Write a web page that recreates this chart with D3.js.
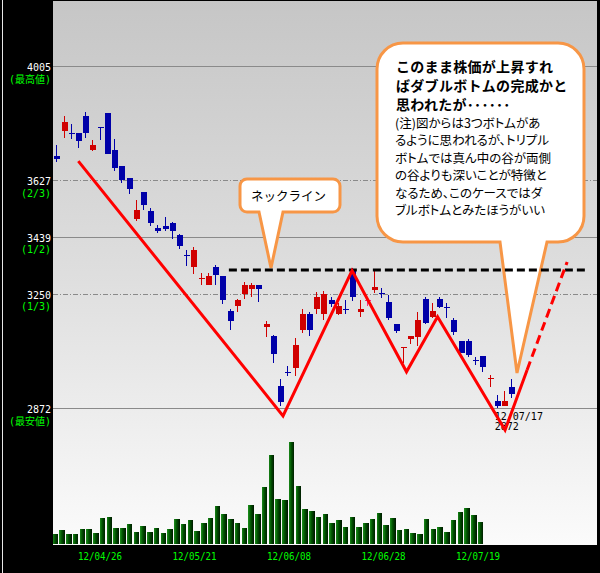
<!DOCTYPE html>
<html><head><meta charset="utf-8">
<script src="https://cdn.jsdelivr.net/npm/d3@7"></script>
<style>html,body{margin:0;padding:0;background:#000;} svg{display:block} .palt{font-feature-settings:"palt" 1;}</style>
</head><body>
<svg id="c" width="600" height="573"></svg>
<script>
// ---- data ----
const dates = ["12/04/17","12/04/18","12/04/19","12/04/20","12/04/23","12/04/24","12/04/25","12/04/26","12/04/27","12/05/01",
"12/05/02","12/05/07","12/05/08","12/05/09","12/05/10","12/05/11","12/05/14","12/05/15","12/05/16","12/05/17",
"12/05/18","12/05/21","12/05/22","12/05/23","12/05/24","12/05/25","12/05/28","12/05/29","12/05/30","12/05/31",
"12/06/01","12/06/04","12/06/05","12/06/06","12/06/07","12/06/08","12/06/11","12/06/12","12/06/13","12/06/14",
"12/06/15","12/06/18","12/06/19","12/06/20","12/06/21","12/06/22","12/06/25","12/06/26","12/06/27","12/06/28",
"12/06/29","12/07/02","12/07/03","12/07/04","12/07/05","12/07/06","12/07/09","12/07/10","12/07/11","12/07/12",
"12/07/13","12/07/17","12/07/18","12/07/19"];
const open = [3708,3791,3782,3782,3839,3727,3802,3849,3727,3674,3634,3498,3587,3525,3468,3475,3485,3445,3378,3340,
3303,3280,3339,3309,3193,3210,3250,3265,3280,3141,3111,2945,2991,3006,3130,3183,3200,3183,3230,3183,
3199,3327,3191,3230,3264,3252,3223,3150,3073,3102,3106,3233,3174,3233,3206,3164,3093,3093,3031,3044,
2970,2896,2879,2941];
const high = [3743,3839,3813,3784,3852,3760,3802,3849,3763,3674,3634,3561,3587,3536,3478,3504,3488,3448,3395,3404,
3318,3318,3346,3309,3200,3233,3290,3286,3280,3160,3114,2968,3011,3103,3200,3191,3256,3261,3240,3220,
3230,3335,3230,3233,3329,3269,3246,3150,3074,3111,3191,3240,3219,3240,3219,3169,3095,3100,3042,3044,
2981,2915,2929,2968];
const low = [3688,3767,3763,3734,3767,3723,3760,3713,3658,3618,3582,3492,3527,3476,3451,3459,3433,3399,3342,3316,
3280,3280,3280,3217,3130,3191,3234,3241,3224,3108,3022,2880,2978,2978,3120,3111,3183,3164,3206,3180,
3183,3227,3174,3211,3252,3235,3164,3122,3020,3084,3077,3150,3169,3202,3169,3114,3053,3042,3015,2992,
2943,2872,2879,2904];
const close = [3697,3819,3781,3757,3782,3743,3801,3713,3668,3627,3597,3528,3544,3486,3459,3465,3459,3409,3377,3395,
3304,3309,3313,3230,3160,3230,3280,3280,3265,3150,3051,2893,2990,3081,3183,3130,3240,3250,3216,3210,
3198,3241,3200,3230,3273,3251,3171,3126,3074,3111,3164,3155,3193,3206,3205,3123,3055,3047,3030,3007,
2971,2879,2896,2918];
const volume = [1000,1400,1000,1000,1500,1500,1100,2600,2700,1600,1600,2000,1200,1800,1200,1600,1100,1500,2500,2000,
2400,1300,2100,2600,3800,3000,2500,2100,1600,3900,3000,5700,8900,4500,4400,10200,5800,3500,3300,2700,
3000,2100,2400,1700,2700,1700,2100,2500,3100,1900,2600,1400,1500,1100,1000,2500,1500,1700,1200,2400,
3200,3600,2900,2200];
const priceTicks = [4005, 3627, 3439, 3250, 2872];
const priceNotes = ["(最高値)", "(2/3)", "(1/2)", "(1/3)", "(最安値)"];
const dateTicks = ["12/04/26", "12/05/21", "12/06/08", "12/06/28", "12/07/19"];
// hand-drawn pattern (index position along candles, price)
const patternIdx = [3.05, 31.4, 40.96, 48.5, 52.8, 62.15, 65.2];
const patternPrice = [3690, 2846, 3327, 2992, 3174, 2799, 2998];
const forecastIdx = [65.2, 70.75];
const forecastPrice = [2998, 3356];
const necklinePrice = 3329;
const necklineIdx = [23.9, 73.2];
const lowDate = "12/07/17", lowPrice = 2872;
const necklineLabel = "ネックライン";
const noteBold = ["このまま株価が上昇すれ", "ばダブルボトムの完成かと", "思われたが･･････"];
const noteText = ["(注)図からは3つボトムがあ", "るように思われるが、トリプル", "ボトムでは真ん中の谷が両側",
  "の谷よりも深いことが特徴と", "なるため、このケースではダ", "ブルボトムとみたほうがいい"];

// ---- layout ----
const svg = d3.select("#c");
const W = 600, H = 573;
const plot = {x0: 53, x1: 597, y0: 1, y1: 545};
const xC = d3.scaleLinear().domain([0, dates.length - 1]).range([56.3, 511.2]);
const xV = d3.scaleBand().domain(dates).range([52.7, 483.4]).paddingInner(0.2).paddingOuter(0);
const y = d3.scaleLinear().domain([2872, 4005]).range([408, 66]);
const yV = d3.scaleLinear().domain([0, 12400]).range([544, 420]);

const defs = svg.append("defs");
const bg = defs.append("linearGradient").attr("id", "bg").attr("x1", 0).attr("x2", 0).attr("y1", 0).attr("y2", 1);
bg.append("stop").attr("offset", "0").attr("stop-color", "#c6c6c6");
bg.append("stop").attr("offset", "0.5").attr("stop-color", "#dedede");
bg.append("stop").attr("offset", "1").attr("stop-color", "#fbfbfb");
const vg = defs.append("linearGradient").attr("id", "vg").attr("x1", 0).attr("x2", 1).attr("y1", 0).attr("y2", 0);
vg.append("stop").attr("offset", "0").attr("stop-color", "#1a8a1a");
vg.append("stop").attr("offset", "0.45").attr("stop-color", "#005000");
vg.append("stop").attr("offset", "1").attr("stop-color", "#001800");

svg.append("rect").attr("width", W).attr("height", H).attr("fill", "#000");
svg.append("rect").attr("x", plot.x0).attr("y", plot.y0).attr("width", plot.x1 - plot.x0)
  .attr("height", plot.y1 - plot.y0).attr("fill", "url(#bg)");
svg.append("line").attr("x1", 2.5).attr("x2", 2.5).attr("y1", 0).attr("y2", H).attr("stroke", "#e8e8e8");

// grid lines
const grid = svg.append("g").attr("shape-rendering", "crispEdges");
priceTicks.forEach((p, i) => {
  const yy = Math.round(y(p)) + 0.5;
  const dashed = priceNotes[i] === "(2/3)" || priceNotes[i] === "(1/3)";
  grid.append("line").attr("x1", plot.x0).attr("x2", plot.x1).attr("y1", yy).attr("y2", yy)
    .attr("stroke", "#8a8a8a").attr("stroke-width", 1)
    .attr("stroke-dasharray", dashed ? "5,2,1,2" : null);
});

// left labels
const lab = svg.append("g").attr("font-family", "'DejaVu Sans Mono', 'Noto Sans CJK JP', monospace").attr("font-size", 10);
priceTicks.forEach((p, i) => {
  lab.append("text").attr("x", 51).attr("y", y(p) + 5).attr("text-anchor", "end").attr("fill", "#fff").text(p);
  lab.append("text").attr("x", 51).attr("y", y(p) + 16.5).attr("text-anchor", "end").attr("fill", "#00ff00").text(priceNotes[i]);
});

// volume bars
svg.append("g").selectAll("rect").data(dates).join("rect")
  .attr("x", d => xV(d)).attr("width", xV.bandwidth())
  .attr("y", (d, i) => yV(volume[i])).attr("height", (d, i) => yV(0) - yV(volume[i]))
  .attr("fill", "url(#vg)").attr("shape-rendering", "crispEdges");

// date labels
svg.append("g").attr("font-family", "'DejaVu Sans Mono', monospace").attr("font-size", 10.4)
  .selectAll("text").data(dateTicks).join("text")
  .attr("x", d => xV(d) - 22).attr("y", 559.5).attr("textLength", 44).attr("lengthAdjust", "spacingAndGlyphs")
  .attr("fill", "#00ff00").text(d => d);

// callouts
const orange = "#f79646";
function callout(x0, y0, x1, y1, r, px1, px2, tx, ty) {
  return `M${x0 + r},${y0} H${x1 - r} A${r},${r} 0 0 1 ${x1},${y0 + r} V${y1 - r} A${r},${r} 0 0 1 ${x1 - r},${y1}` +
    ` H${px2} L${tx},${ty} L${px1},${y1} H${x0 + r} A${r},${r} 0 0 1 ${x0},${y1 - r} V${y0 + r} A${r},${r} 0 0 1 ${x0 + r},${y0} Z`;
}
svg.append("path").attr("d", callout(240, 179, 340, 212, 7, 259, 283, 271, 268))
  .attr("fill", "#fff").attr("stroke", orange).attr("stroke-width", 3);
svg.append("path").attr("d", callout(377, 43, 584, 242, 26, 500, 547, 517, 373))
  .attr("fill", "#fff").attr("stroke", orange).attr("stroke-width", 3);
const jp = "'Noto Sans CJK JP', sans-serif";
svg.append("text").attr("x", 251).attr("y", 201).attr("font-family", jp).attr("font-size", 12.5)
  .attr("fill", "#000").text(necklineLabel);
noteBold.forEach((t, i) => svg.append("text").attr("x", 396).attr("y", 72 + i * 19)
  .attr("font-family", jp).attr("font-size", 14).attr("font-weight", "bold").attr("letter-spacing", 0.3)
  .attr("fill", "#000").text(t));
noteText.forEach((t, i) => svg.append("text").attr("class", "palt").attr("x", 395).attr("y", 127.5 + i * 17.5)
  .attr("font-family", jp).attr("font-size", 12.5).attr("fill", "#000").text(t));

// candles
const cg = svg.append("g").attr("shape-rendering", "crispEdges");
const col = i => close[i] > open[i] ? "#d00000" : close[i] < open[i] ? "#0000a8" : "#ff2a80";
dates.forEach((d, i) => {
  const cx = Math.round(xC(i));
  cg.append("line").attr("x1", cx + 0.5).attr("x2", cx + 0.5)
    .attr("y1", y(high[i])).attr("y2", y(low[i])).attr("stroke", col(i)).attr("stroke-width", 1);
  const top = Math.min(y(open[i]), y(close[i])), bot = Math.max(y(open[i]), y(close[i]));
  cg.append("rect").attr("x", cx - 2.5).attr("width", 6)
    .attr("y", top).attr("height", Math.max(1, bot - top)).attr("fill", col(i));
});

// low annotation
const ti = dates.indexOf(lowDate);
svg.append("text").attr("x", xC(ti) - 2).attr("y", 420).attr("font-family", "'DejaVu Sans Mono', monospace")
  .attr("font-size", 10).attr("fill", "#000").text(lowDate);
svg.append("text").attr("x", xC(ti) - 2).attr("y", 430).attr("font-family", "'DejaVu Sans Mono', monospace")
  .attr("font-size", 10).attr("fill", "#000").text(lowPrice);

// neckline
svg.append("line").attr("x1", xC(necklineIdx[0])).attr("x2", xC(necklineIdx[1]))
  .attr("y1", y(necklinePrice)).attr("y2", y(necklinePrice))
  .attr("stroke", "#000").attr("stroke-width", 3).attr("stroke-dasharray", "8,4");

// pattern lines
const line = d3.line().x(d => xC(d[0])).y(d => y(d[1]));
svg.append("path").attr("d", line(patternIdx.map((v, i) => [v, patternPrice[i]])))
  .attr("fill", "none").attr("stroke", "#ff0000").attr("stroke-width", 3).attr("stroke-linejoin", "miter");
svg.append("path").attr("d", line(forecastIdx.map((v, i) => [v, forecastPrice[i]])))
  .attr("fill", "none").attr("stroke", "#ff0000").attr("stroke-width", 3).attr("stroke-dasharray", "9,5");
</script>
</body></html>
